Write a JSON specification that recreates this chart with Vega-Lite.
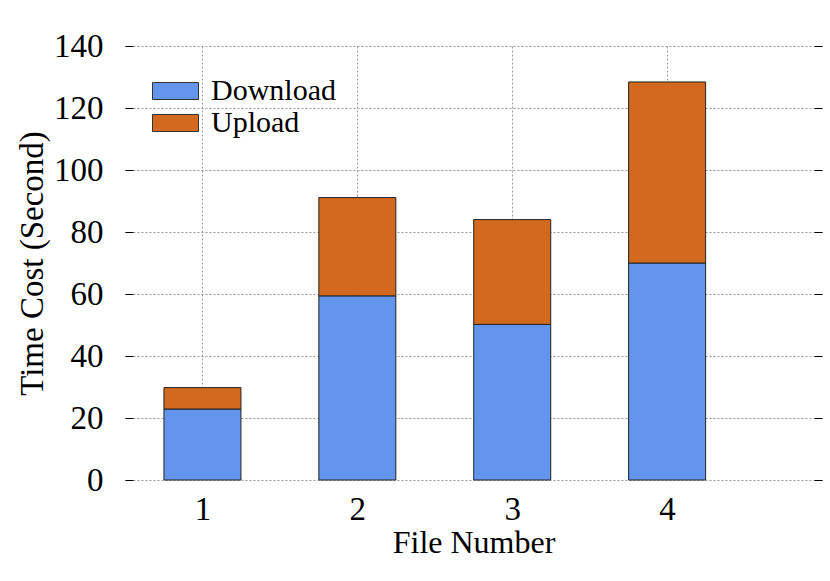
{
  "$schema": "https://vega.github.io/schema/vega-lite/v6.json",
  "width": 697,
  "height": 434,
  "autosize": {"type": "none"},
  "padding": {"left": 125, "top": 46, "right": 8, "bottom": 101},
  "background": "white",
  "config": {
    "view": {"stroke": null},
    "font": "Liberation Serif",
    "axis": {
      "labelFont": "Liberation Serif",
      "titleFont": "Liberation Serif",
      "labelColor": "black",
      "titleColor": "black",
      "titleFontWeight": "normal",
      "gridColor": "#999999",
      "gridDash": [2, 2],
      "gridWidth": 1,
      "domain": false
    }
  },
  "data": {
    "values": [
      {"file": 1, "series": "Download", "time": 22.9},
      {"file": 1, "series": "Upload", "time": 6.9},
      {"file": 2, "series": "Download", "time": 59.4},
      {"file": 2, "series": "Upload", "time": 31.7},
      {"file": 3, "series": "Download", "time": 50.2},
      {"file": 3, "series": "Upload", "time": 33.8},
      {"file": 4, "series": "Download", "time": 70.0},
      {"file": 4, "series": "Upload", "time": 58.4}
    ]
  },
  "layer": [
    {
      "mark": {"type": "bar", "size": 77, "stroke": "#222222", "strokeWidth": 1},
      "encoding": {
        "x": {
          "field": "file", "type": "quantitative",
          "scale": {"domain": [0.5, 5], "nice": false, "zero": false, "padding": 0},
          "axis": {"values": [1, 2, 3, 4], "title": "File Number", "grid": true, "ticks": false,
                   "labelFontSize": 33, "titleFontSize": 32, "labelPadding": 13, "titlePadding": 1}
        },
        "y": {
          "field": "time", "type": "quantitative", "stack": "zero",
          "scale": {"domain": [0, 140], "nice": false},
          "axis": {"values": [0, 20, 40, 60, 80, 100, 120, 140], "title": "Time Cost (Second)", "grid": true,
                   "ticks": true, "tickSize": -8, "tickColor": "black", "labelFontSize": 33, "titleFontSize": 33,
                   "labelPadding": 30, "titlePadding": 4}
        },
        "color": {
          "field": "series", "type": "nominal",
          "scale": {"domain": ["Download", "Upload"], "range": ["#6495ED", "#D2691E"]},
          "legend": {
            "title": null, "orient": "none", "legendX": 27, "legendY": 30, "padding": 0,
            "symbolType": "M-1,-0.37H1V0.37H-1Z", "symbolSize": 2116,
            "symbolStrokeColor": "#333333", "symbolStrokeWidth": 1, "symbolOpacity": 1,
            "labelFont": "Liberation Serif", "labelFontSize": 30, "labelColor": "black",
            "labelOffset": 12, "rowPadding": 2, "clipHeight": 30,
            "encode": {"symbols": {"update": {"size": {"value": 2116}, "stroke": {"value": "#333333"}, "strokeWidth": {"value": 1}}}}
          }
        },
        "order": {"field": "series", "sort": "ascending"}
      }
    },
    {
      "mark": {"type": "bar", "size": 77, "opacity": 0},
      "encoding": {
        "x": {
          "field": "file", "type": "quantitative",
          "scale": {"domain": [0.5, 5], "nice": false, "zero": false, "padding": 0},
          "axis": {"values": [1, 2, 3, 4], "title": "File Number", "grid": true, "ticks": false,
                   "labelFontSize": 33, "titleFontSize": 32, "labelPadding": 13, "titlePadding": 1}
        },
        "y": {
          "field": "time", "type": "quantitative", "stack": "zero",
          "scale": {"domain": [0, 140], "nice": false},
          "axis": {"orient": "right", "values": [0, 20, 40, 60, 80, 100, 120, 140], "title": null, "grid": false,
                   "labels": false, "ticks": true, "tickSize": -8, "tickColor": "black"}
        },
        "order": {"field": "series", "sort": "ascending"}
      }
    }
  ],
  "resolve": {"axis": {"y": "independent"}}
}
